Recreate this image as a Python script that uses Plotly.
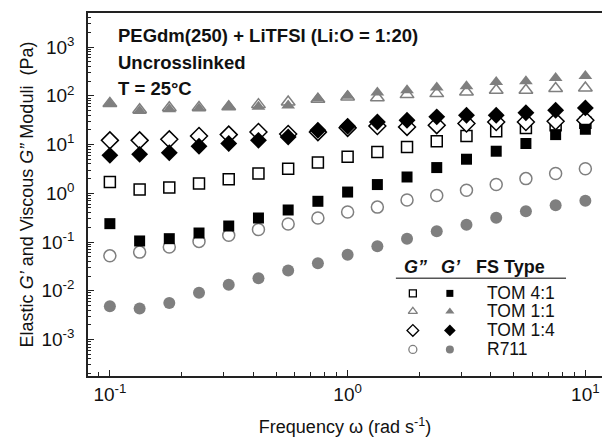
import plotly.graph_objects as go

freq = [0.1, 0.1334, 0.1778, 0.2371, 0.3162, 0.4217, 0.5623, 0.7499, 1.0,
        1.334, 1.778, 2.371, 3.162, 4.217, 5.623, 7.499, 10.0]

tom41_Gpp = [1.7, 1.19, 1.31, 1.58, 1.94, 2.54, 3.2, 4.27, 5.6, 7.06, 8.9, 11.7, 15.0, 18.8, 21.9, 25.0, 28.0]
tom41_Gp = [0.238, 0.105, 0.117, 0.153, 0.213, 0.311, 0.454, 0.685, 1.06, 1.51, 2.16, 3.37, 5.0, 7.3, 10.5, 16.0, 20.6]
tom11_Gpp = [70, 52, 57, 58, 60, 66, 75, 85, 95, 91, 106, 111, 120, 130, 130, 141, 145]
tom11_Gp = [69, 49, 53, 55, 61, 60, 63, 88, 100, 117, 130, 148, 157, 193, 199, 233, 256]
tom14_Gpp = [12.2, 12.2, 12.8, 15.0, 16.0, 18.1, 16.5, 18.0, 22.0, 24.0, 23.0, 25.0, 27.0, 29.0, 29.0, 30.0, 31.5]
tom14_Gp = [6.0, 6.3, 6.8, 9.2, 10.5, 12.2, 14.3, 19.7, 23.8, 29.0, 31.5, 37.0, 40.0, 40.0, 45.0, 50.6, 56.5]
r711_Gpp = [0.052, 0.062, 0.079, 0.103, 0.137, 0.18, 0.234, 0.311, 0.414, 0.52, 0.73, 0.9, 1.15, 1.51, 2.0, 2.54, 3.2]
r711_Gp = [0.0048, 0.0043, 0.0056, 0.0091, 0.0133, 0.018, 0.026, 0.0365, 0.055, 0.082, 0.117, 0.166, 0.227, 0.316, 0.427, 0.57, 0.70]

fs_types = ["TOM 4:1", "TOM 1:1", "TOM 1:4", "R711"]
x_tickvals = [0.1, 1, 10]
x_ticktext = ["10<sup>-1</sup>", "10<sup>0</sup>", "10<sup>1</sup>"]
y_tickvals = [1e-3, 1e-2, 1e-1, 1, 10, 100, 1000]
y_ticktext = ["10<sup>-3</sup>", "10<sup>-2</sup>", "10<sup>-1</sup>", "10<sup>0</sup>",
              "10<sup>1</sup>", "10<sup>2</sup>", "10<sup>3</sup>"]

BLACK = "#000000"
GRAY = "#7f7f7f"
FONT = "Liberation Sans, Arial, sans-serif"
XR = [-1.092, 1.07]
YR = [-3.75, 3.70]

# style per FS type: (symbol, color, size)
styles = [("square", BLACK, 11), ("triangle-up", GRAY, 12), ("diamond", BLACK, 13), ("circle", GRAY, 12)]
gpp_data = [tom41_Gpp, tom11_Gpp, tom14_Gpp, r711_Gpp]
gp_data = [tom41_Gp, tom11_Gp, tom14_Gp, r711_Gp]

fig = go.Figure()

# open (G'') markers first
for (sym, col, sz), ys, name in zip(styles, gpp_data, fs_types):
    fig.add_trace(go.Scatter(x=freq, y=ys, mode="markers", name=name + " G''",
                             marker=dict(symbol=sym, size=sz, color="white",
                                         line=dict(color=col, width=1.5)),
                             showlegend=False))
# filled (G') markers on top
for (sym, col, sz), ys, name in zip(styles, gp_data, fs_types):
    fig.add_trace(go.Scatter(x=freq, y=ys, mode="markers", name=name + " G'",
                             marker=dict(symbol=sym, size=sz, color=col,
                                         line=dict(color=col, width=0)),
                             showlegend=False))


def frac_to_x(f):
    return 10 ** (XR[0] + f * (XR[1] - XR[0]))


def frac_to_y(f):
    return 10 ** (YR[0] + f * (YR[1] - YR[0]))


# custom legend table (positions as fractions of the plot area)
row_y = [0.2276, 0.178, 0.1255, 0.0731]
leg_sizes = [7, 8, 9, 8]
for (sym, col, sz), ry, lsz in zip(styles, row_y, leg_sizes):
    fig.add_trace(go.Scatter(x=[frac_to_x(0.632)], y=[frac_to_y(ry)], mode="markers",
                             marker=dict(symbol=sym, size=lsz, color="white",
                                         line=dict(color=col, width=1.3)),
                             showlegend=False, hoverinfo="skip"))
    fig.add_trace(go.Scatter(x=[frac_to_x(0.704)], y=[frac_to_y(ry)], mode="markers",
                             marker=dict(symbol=sym, size=lsz, color=col, line=dict(width=0)),
                             showlegend=False, hoverinfo="skip"))

annotations = []
for name, ry in zip(fs_types, row_y):
    annotations.append(dict(x=0.772, y=ry, xref="paper", yref="paper", text=name,
                            showarrow=False, xanchor="left", yanchor="middle",
                            font=dict(size=17.5, color="#111", family=FONT)))
annotations += [
    dict(x=0.638, y=0.299, xref="paper", yref="paper", text="<b><i>G”</i></b>", showarrow=False,
         xanchor="center", yanchor="middle", font=dict(size=18, color="#111", family=FONT)),
    dict(x=0.706, y=0.299, xref="paper", yref="paper", text="<b><i>G’</i></b>", showarrow=False,
         xanchor="center", yanchor="middle", font=dict(size=18, color="#111", family=FONT)),
    dict(x=0.751, y=0.299, xref="paper", yref="paper", text="<b>FS Type</b>", showarrow=False,
         xanchor="left", yanchor="middle", font=dict(size=18, color="#111", family=FONT)),
]
title_lines = ["PEGdm(250) + LiTFSI (Li:O = 1:20)", "Uncrosslinked", "T = 25°C"]
for txt, ty in zip(title_lines, [0.939, 0.865, 0.791]):
    annotations.append(dict(x=0.054, y=ty, xref="paper", yref="paper", text="<b>" + txt + "</b>",
                            showarrow=False, xanchor="left", yanchor="middle",
                            font=dict(size=18.5, color="#111", family=FONT)))

fig.update_layout(
    width=602, height=438,
    margin=dict(l=88, r=0, t=13, b=62),
    paper_bgcolor="white", plot_bgcolor="white",
    font=dict(family=FONT, size=18, color="#111"),
    annotations=annotations,
    shapes=[
        dict(type="line", xref="paper", yref="paper", x0=0.599, x1=0.930, y0=0.269, y1=0.269,
             line=dict(color="#555", width=1.5)),
        dict(type="rect", xref="paper", yref="paper", x0=0.9965, x1=1.01, y0=0.003, y1=0.995,
             fillcolor="white", line=dict(width=0), layer="above"),
    ],
    xaxis=dict(type="log", range=XR, showline=True, linecolor="#222", linewidth=1.5,
               mirror=True, ticks="inside", ticklen=6, tickwidth=1.2, tickcolor="#222",
               tickvals=x_tickvals, ticktext=x_ticktext, showgrid=False, zeroline=False,
               tickfont=dict(size=19), automargin=False,
               minor=dict(ticks="inside", ticklen=4, tickcolor="#222", dtick="D1", showgrid=False),
               title=dict(text="Frequency ω (rad s<sup>-1</sup>)", font=dict(size=18), standoff=17)),
    yaxis=dict(type="log", range=YR, showline=True, linecolor="#222", linewidth=1.5, mirror=False,
               ticks="inside", ticklen=6, tickwidth=1.2, tickcolor="#222",
               tickvals=y_tickvals, ticktext=y_ticktext, showgrid=False, zeroline=False,
               tickfont=dict(size=19), ticklabelstandoff=8, automargin=False,
               minor=dict(ticks="inside", ticklen=3, tickcolor="#222", dtick="D1", showgrid=False),
               title=dict(text="Elastic <i>G’</i> and Viscous <i>G”</i> Moduli  (Pa)",
                          font=dict(size=18), standoff=3)),
)

fig.write_html("out.html", config={"displayModeBar": False},
               post_script="document.body.style.margin='0';document.body.style.overflow='hidden';")
